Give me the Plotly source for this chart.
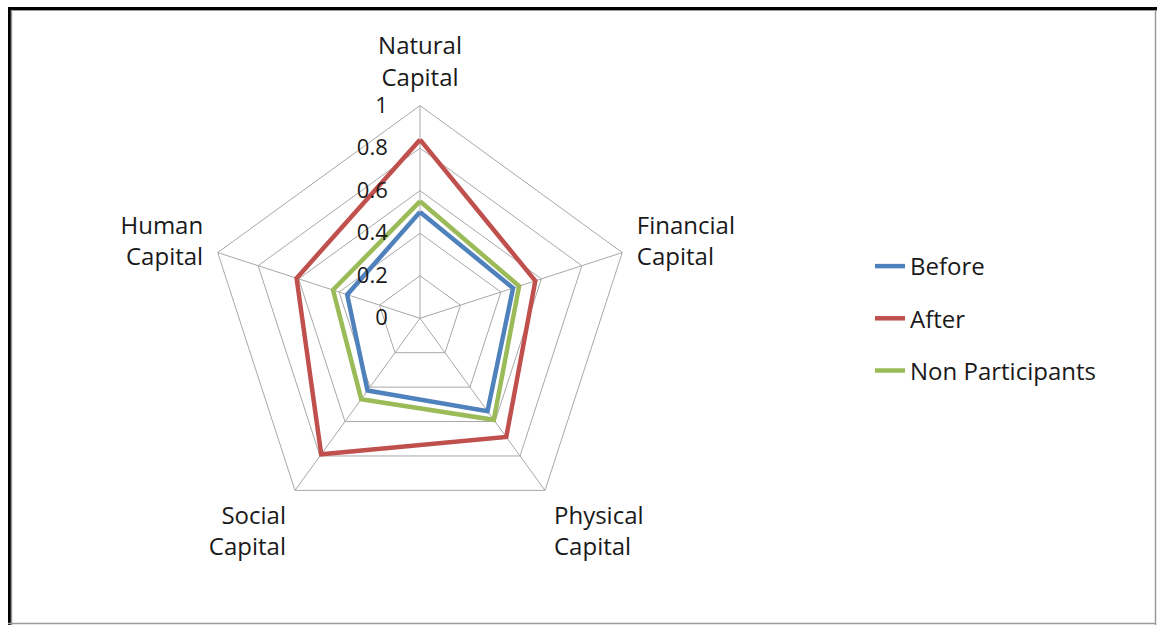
import plotly.graph_objects as go

categories = ["Natural<br>Capital", "Financial<br>Capital", "Physical<br>Capital",
              "Social<br>Capital", "Human<br>Capital"]
before = [0.50, 0.46, 0.54, 0.42, 0.36]
after = [0.84, 0.57, 0.69, 0.79, 0.61]
non_participants = [0.55, 0.49, 0.59, 0.47, 0.43]
radial_ticks = [0, 0.2, 0.4, 0.6, 0.8, 1]
radial_labels = ["0", "0.2", "0.4", "0.6", "0.8", "1"]

series = [("Before", before, "#4F81BD"),
          ("After", after, "#C0504D"),
          ("Non Participants", non_participants, "#9BBB59")]

W, H = 1157, 625
FONT = "Open Sans"
TXT = "#1a1a1a"

fig = go.Figure()
for name, vals, col in series:
    fig.add_trace(go.Scatterpolar(
        r=vals + vals[:1], theta=categories + categories[:1],
        mode="lines", name=name, legendgroup=name,
        line=dict(color=col, width=4.5),
    ))

cx, cy, R = 420, 318.3, 212.7
fig.update_layout(
    width=W, height=H,
    margin=dict(l=0, r=0, t=0, b=0),
    paper_bgcolor="white", plot_bgcolor="white",
    font=dict(family=FONT, size=23, color=TXT),
    polar=dict(
        domain=dict(x=[(cx - R) / W, (cx + R) / W],
                    y=[1 - (cy + R) / H, 1 - (cy - R) / H]),
        bgcolor="white",
        gridshape="linear",
        angularaxis=dict(rotation=90, direction="clockwise",
                         showgrid=True, gridcolor="#A8A8A8", gridwidth=1,
                         showline=True, linecolor="#A8A8A8", linewidth=1,
                         ticks="outside", ticklen=10, tickcolor="rgba(0,0,0,0)",
                         tickfont=dict(size=24, color=TXT)),
        radialaxis=dict(range=[0, 1], angle=90, side="counterclockwise",
                        tickvals=radial_ticks, ticktext=radial_labels,
                        showgrid=True, gridcolor="#A8A8A8", gridwidth=1,
                        showline=False, ticks="outside", ticklen=24,
                        tickcolor="rgba(0,0,0,0)", tickangle=90,
                        tickfont=dict(size=22, color=TXT)),
    ),
    showlegend=True,
    legend=dict(x=(912 - 42) / W, xanchor="left", y=1 - 244 / H, yanchor="top",
                font=dict(size=24, color=TXT), tracegroupgap=18,
                bgcolor="rgba(0,0,0,0)", borderwidth=0),
    shapes=[
        dict(type="line", xref="paper", yref="paper", x0=8 / W, x1=1, y0=1 - 8.5 / H, y1=1 - 8.5 / H,
             line=dict(color="black", width=3)),
        dict(type="line", xref="paper", yref="paper", x0=11 / W, x1=1, y0=1 - 10.5 / H, y1=1 - 10.5 / H,
             line=dict(color="#9a9a9a", width=1)),
        dict(type="line", xref="paper", yref="paper", x0=9.5 / W, x1=9.5 / W, y0=0, y1=1 - 7 / H,
             line=dict(color="black", width=3)),
        dict(type="line", xref="paper", yref="paper", x0=11.5 / W, x1=11.5 / W, y0=0, y1=1 - 10 / H,
             line=dict(color="#9a9a9a", width=1.5)),
        dict(type="line", xref="paper", yref="paper", x0=1155.5 / W, x1=1155.5 / W, y0=0, y1=1 - 10 / H,
             line=dict(color="#9a9a9a", width=1.5)),
        dict(type="line", xref="paper", yref="paper", x0=8 / W, x1=1156 / W, y0=1 - 623.5 / H, y1=1 - 623.5 / H,
             line=dict(color="#9a9a9a", width=1.5)),
    ],
)

fig.write_html("out.html")
